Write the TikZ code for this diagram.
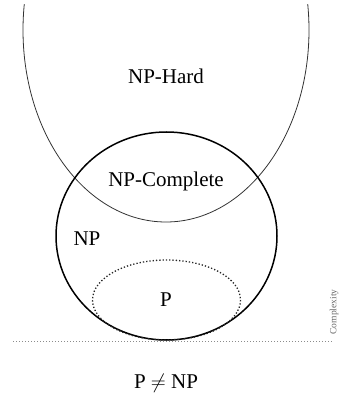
\documentclass[tikz,border=0pt]{standalone}
\usepackage{fontspec}
\setmainfont{Liberation Serif}
\begin{document}
\begin{tikzpicture}[x=1pt,y=-1pt,
  lbl/.style={font=\fontsize{21}{24}\selectfont, inner sep=0pt},
  hardset/.style={draw=black!80, line width=0.8pt},
  npset/.style={draw=black, line width=1.5pt},
  pset/.style={draw=black!85, line width=1.3pt, dotted},
  baseline/.style={draw=black!45, line width=1pt, dotted}]
\useasboundingbox (0,0) rectangle (341,406);
\begin{scope}
  \clip (0,5) rectangle (341,406);
  \draw[hardset] (166,30) ellipse [x radius=143, y radius=192];
\end{scope}
\draw[npset] (166.5,236) ellipse [x radius=110.5, y radius=104];
\draw[pset] (166.5,300) ellipse [x radius=74, y radius=40];
\coordinate (la) at (13,341);
\coordinate (lb) at (333,341);
\draw[baseline] (la) -- (lb);
\node[lbl] (hard) at (166,76) {NP-Hard};
\node[lbl] (comp) at (166,181) {NP-Complete};
\node[lbl] (np) at (87,239) {NP};
\node[lbl] (p) at (166,300) {P};
\node[lbl] (neq) at (166,383) {P $\neq$ NP};
\node[font=\fontsize{9.5}{11}\selectfont, text=black!60, rotate=90, inner sep=0pt] (cx) at (334,312) {Complexity};
\end{tikzpicture}
\end{document}
